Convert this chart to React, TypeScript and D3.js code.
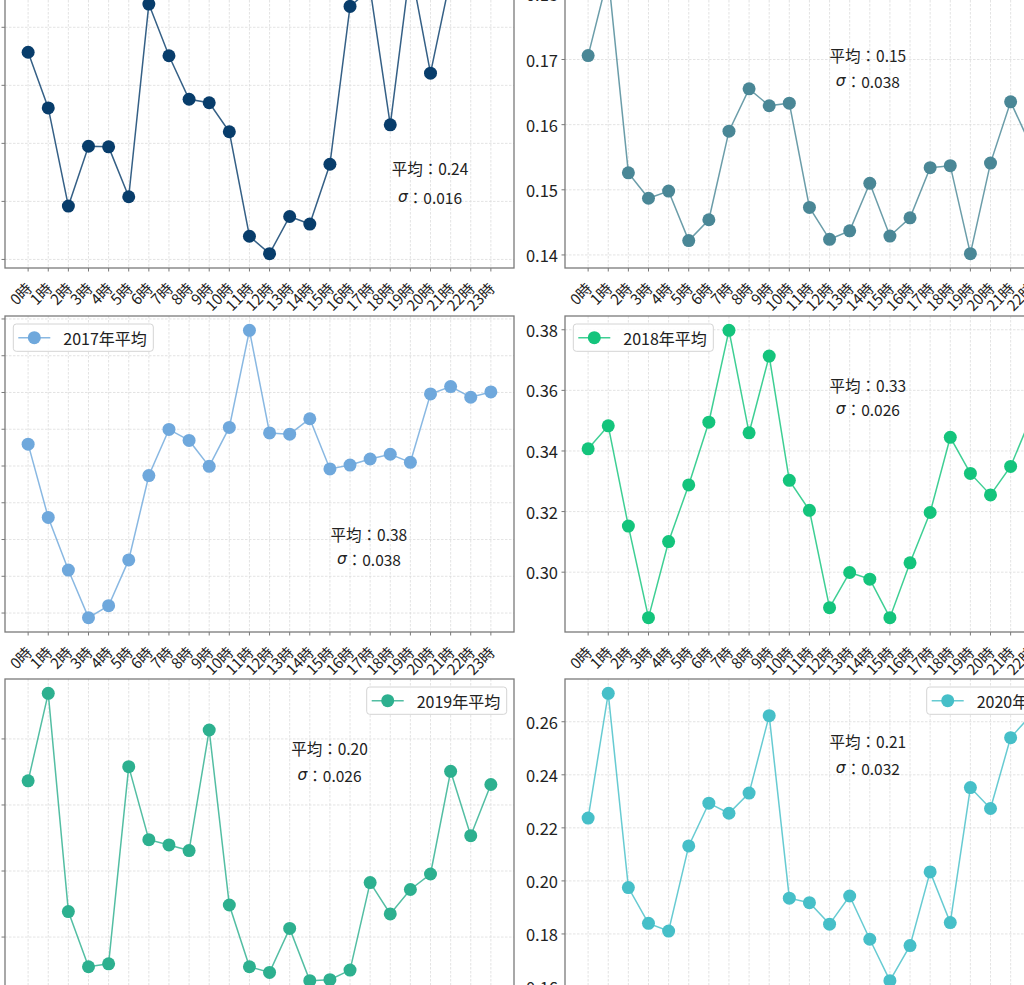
import * as d3 from 'd3';

// 時間帯ラベル
const hourLabels = [
  '0時', '1時', '2時', '3時', '4時', '5時', '6時', '7時', '8時', '9時', '10時', '11時',
  '12時', '13時', '14時', '15時', '16時', '17時', '18時', '19時', '20時', '21時', '22時', '23時',
];

// 年ごとの時間帯平均値
const values2015 = [
  0.2357, 0.2261, 0.2092, 0.2195, 0.2194, 0.2108, 0.2440, 0.2351, 0.2276, 0.2270, 0.2220, 0.2040,
  0.2010, 0.2074, 0.2061, 0.2164, 0.2436, 0.2466, 0.2232, 0.2505, 0.2321, 0.2486, 0.2471, 0.2489,
];
const values2016 = [
  0.1706, 0.1829, 0.1526, 0.1487, 0.1498, 0.1422, 0.1454, 0.1590, 0.1655, 0.1629, 0.1633, 0.1473,
  0.1424, 0.1437, 0.1510, 0.1429, 0.1457, 0.1534, 0.1537, 0.1402, 0.1541, 0.1635, 0.1568, 0.1843,
];
const values2017 = [
  0.3919, 0.3520, 0.3234, 0.2975, 0.3040, 0.3289, 0.3748, 0.3999, 0.3939, 0.3798, 0.4010, 0.4538,
  0.3980, 0.3973, 0.4057, 0.3784, 0.3805, 0.3838, 0.3864, 0.3820, 0.4192, 0.4232, 0.4174, 0.4203,
];
const values2018 = [
  0.3407, 0.3483, 0.3152, 0.2850, 0.3101, 0.3288, 0.3495, 0.3798, 0.3460, 0.3713, 0.3303, 0.3204,
  0.2883, 0.2999, 0.2977, 0.2850, 0.3031, 0.3197, 0.3445, 0.3326, 0.3255, 0.3349, 0.3509, 0.3450,
];
const values2019 = [
  0.2273, 0.2538, 0.1877, 0.1710, 0.1719, 0.2316, 0.2095, 0.2079, 0.2062, 0.2427, 0.1897, 0.1710,
  0.1693, 0.1826, 0.1668, 0.1671, 0.1700, 0.1965, 0.1870, 0.1944, 0.1991, 0.2302, 0.2107, 0.2262,
];
const values2020 = [
  0.2237, 0.2707, 0.1975, 0.1840, 0.1811, 0.2132, 0.2293, 0.2255, 0.2331, 0.2623, 0.1935, 0.1918,
  0.1837, 0.1943, 0.1780, 0.1624, 0.1756, 0.2034, 0.1843, 0.2352, 0.2273, 0.2540, 0.2624, 0.2500,
];

const yTicks2015 = [0.20, 0.21, 0.22, 0.23, 0.24, 0.25];
const yTicks2016 = [0.14, 0.15, 0.16, 0.17, 0.18];
const yTicks2017 = [0.30, 0.32, 0.34, 0.36, 0.38, 0.40, 0.42, 0.44, 0.46];
const yTicks2018 = [0.30, 0.32, 0.34, 0.36, 0.38];
const yTicks2019 = [0.18, 0.20, 0.22, 0.24];
const yTicks2020 = [0.16, 0.18, 0.20, 0.22, 0.24, 0.26];

const years = ['2015', '2016', '2017', '2018', '2019', '2020'];
const meanLabels = ['0.24', '0.15', '0.38', '0.33', '0.20', '0.21'];
const sigmaLabels = ['0.016', '0.038', '0.038', '0.026', '0.026', '0.032'];

const seriesValues = [values2015, values2016, values2017, values2018, values2019, values2020];
const seriesTicks = [yTicks2015, yTicks2016, yTicks2017, yTicks2018, yTicks2019, yTicks2020];
const colors = ['#083d6b', '#4a8796', '#6fa8dc', '#14c47c', '#2db08f', '#46bfc8'];

// レイアウト（図の一部を切り出した状態）
const W = 1024;
const H = 985;
const colLeft = [5, 565];
const rowTop = [-48, 316, 679];
const axW = 509;
const axH = 316;
const legendLoc = ['ul', 'ur', 'ul', 'ul', 'ur', 'ur'];
// 注記位置 [x割合, 1行目y割合, 2行目y割合]
const notePos = [
  [0.835, 0.684, 0.775],
  [0.595, 0.326, 0.408],
  [0.715, 0.69, 0.769],
  [0.595, 0.218, 0.295],
  [0.6375, 0.219, 0.305],
  [0.595, 0.196, 0.283],
];

const FONT = '"Noto Sans CJK JP", "Noto Sans", sans-serif';
const spineColor = '#7a7a7a';
const gridColor = '#dcdcdc';
const textColor = '#222';

function Panel({ idx }: { idx: number }) {
  const values = seriesValues[idx];
  const color = colors[idx];
  const x0 = colLeft[idx % 2];
  const y0 = rowTop[Math.floor(idx / 2)];

  const x = d3.scaleLinear().domain([-1.15, 24.15]).range([x0, x0 + axW]);
  const [lo, hi] = d3.extent(values) as [number, number];
  const pad = (hi - lo) * 0.05;
  const y = d3.scaleLinear().domain([lo - pad, hi + pad]).range([y0 + axH, y0]);
  const yTicks = seriesTicks[idx].filter((t) => t >= lo - pad && t <= hi + pad);

  const line = d3
    .line<number>()
    .x((_, i) => x(i))
    .y((d) => y(d));

  const clipId = `clip-${idx}`;
  const bottom = y0 + axH;

  const [nx, ny1, ny2] = notePos[idx];
  const legW = 140;
  const legH = 27.3;
  const legX = legendLoc[idx] === 'ul' ? x0 + 8.3 : x0 + axW - 7.3 - legW;
  const legY = y0 + 8;

  // 画面外に完全に出る文字は描かない
  const showYLabels = x0 - 7 > 0;
  const showLegend = legY + legH > 0;

  return (
    <g>
      <defs>
        <clipPath id={clipId}>
          <rect x={x0} y={y0} width={axW} height={axH} />
        </clipPath>
      </defs>
      <rect x={x0} y={y0} width={axW} height={axH} fill="white" />

      {/* grid */}
      <g stroke={gridColor} strokeWidth={0.8} strokeDasharray="2.5,1.5">
        {hourLabels.map((_, i) => (
          <line key={`gx${i}`} x1={x(i)} x2={x(i)} y1={y0} y2={bottom} />
        ))}
        {yTicks.map((t) => (
          <line key={`gy${t}`} x1={x0} x2={x0 + axW} y1={y(t)} y2={y(t)} />
        ))}
      </g>

      {/* series */}
      <g clipPath={`url(#${clipId})`}>
        <path
          d={line(values) ?? ''}
          fill="none"
          stroke={color}
          strokeOpacity={0.82}
          strokeWidth={1.5}
        />
        {values.map((v, i) => (
          <circle key={i} cx={x(i)} cy={y(v)} r={6.5} fill={color} />
        ))}
      </g>

      {/* spines */}
      <rect x={x0} y={y0} width={axW} height={axH} fill="none" stroke={spineColor} strokeWidth={1.3} />

      {/* y ticks */}
      {yTicks.map((t) => (
        <g key={`yt${t}`}>
          <line x1={x0 - 3.5} x2={x0} y1={y(t)} y2={y(t)} stroke={spineColor} strokeWidth={1} />
          {showYLabels && (
            <text
              x={x0 - 7}
              y={y(t)}
              textAnchor="end"
              dominantBaseline="central"
              fontSize={16.5}
              fill={textColor}
              fontFamily={FONT}
            >
              {d3.format('.2f')(t)}
            </text>
          )}
        </g>
      ))}

      {/* x ticks */}
      {hourLabels.map((lab, i) => (
        <g key={`xt${i}`}>
          <line x1={x(i)} x2={x(i)} y1={bottom} y2={bottom + 3.5} stroke={spineColor} strokeWidth={1} />
          {x(i) - 30 < W && bottom < H && (
            <text
              transform={`translate(${x(i) + 0.5},${bottom + 17})rotate(-45)`}
              textAnchor="end"
              dominantBaseline="central"
              fontSize={15}
              fill={textColor}
              fontFamily={FONT}
            >
              {lab}
            </text>
          )}
        </g>
      ))}

      {/* notes */}
      <text
        x={x0 + nx * axW}
        y={y0 + ny1 * axH}
        textAnchor="middle"
        dominantBaseline="central"
        fontSize={15.5}
        fill={textColor}
        fontFamily={FONT}
      >
        {`平均：${meanLabels[idx]}`}
      </text>
      <text
        x={x0 + nx * axW}
        y={y0 + ny2 * axH}
        textAnchor="middle"
        dominantBaseline="central"
        fontSize={15.5}
        fill={textColor}
        fontFamily={FONT}
      >
        <tspan fontStyle="italic" fontFamily='"DejaVu Sans", sans-serif'>σ</tspan>
        {`：${sigmaLabels[idx]}`}
      </text>

      {/* legend */}
      {showLegend && (
        <g>
          <rect
            x={legX}
            y={legY}
            width={legW}
            height={legH}
            rx={3}
            fill="white"
            fillOpacity={0.85}
            stroke="#d4d4d4"
            strokeWidth={1}
          />
          <line
            x1={legX + 5}
            x2={legX + 37}
            y1={legY + legH / 2}
            y2={legY + legH / 2}
            stroke={color}
            strokeOpacity={0.82}
            strokeWidth={1.5}
          />
          <circle cx={legX + 21} cy={legY + legH / 2} r={6.5} fill={color} />
          <text
            x={legX + 50}
            y={legY + legH / 2}
            dominantBaseline="central"
            fontSize={16}
            fill={textColor}
            fontFamily={FONT}
          >
            {`${years[idx]}年平均`}
          </text>
        </g>
      )}
    </g>
  );
}

export default function App() {
  return (
    <svg
      width={W}
      height={H}
      style={{ position: 'absolute', left: 0, top: 0, background: 'white', overflow: 'hidden' }}
    >
      <rect x={0} y={0} width={W} height={H} fill="white" />
      {years.map((_, i) => (
        <Panel key={i} idx={i} />
      ))}
    </svg>
  );
}
